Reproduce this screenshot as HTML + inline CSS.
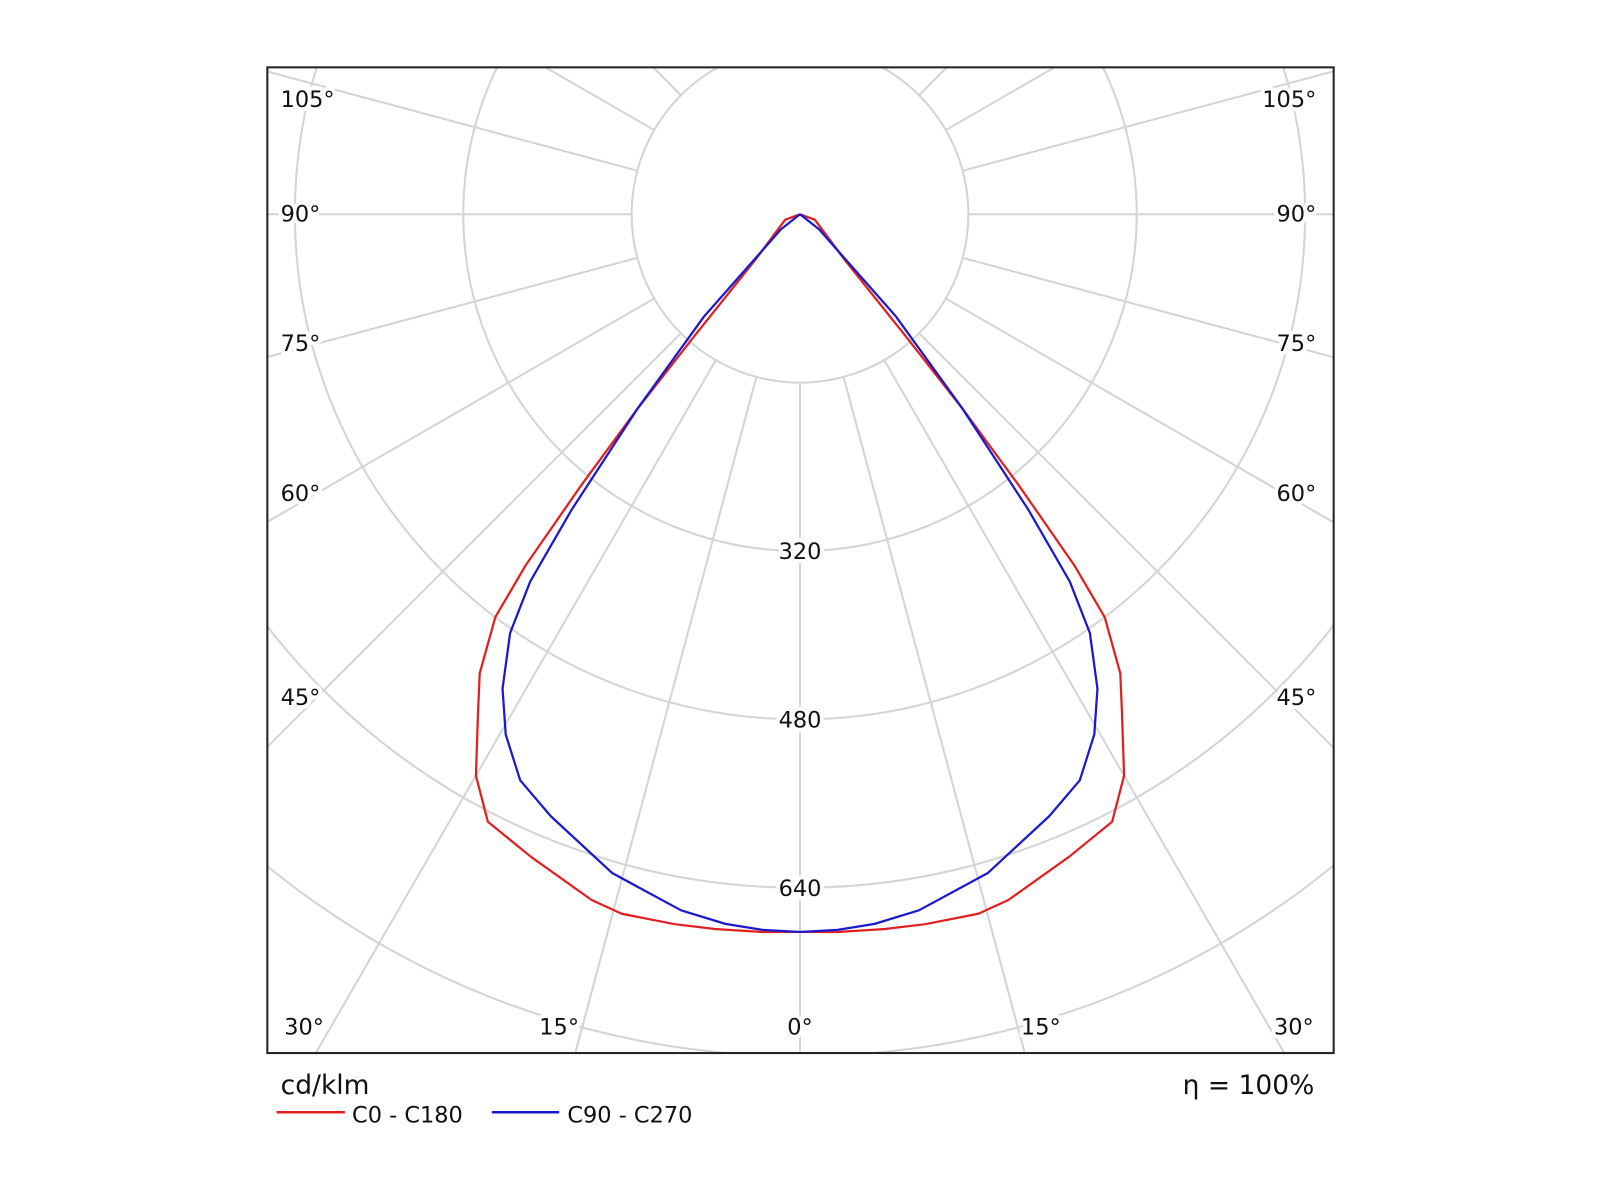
<!DOCTYPE html>
<html><head><meta charset="utf-8"><style>
html,body{margin:0;padding:0;background:#fff;width:1600px;height:1200px;overflow:hidden;}
svg{display:block;}
text{font-family:"DejaVu Sans","Liberation Sans",sans-serif;font-size:22px;fill:#111;}
.lbl{paint-order:stroke;stroke:#fff;stroke-width:8px;stroke-linejoin:round;}
</style></head><body>
<svg id="chart" width="1600" height="1200" viewBox="0 0 1568 1176" xmlns="http://www.w3.org/2000/svg">
<defs><clipPath id="frameClip"><rect x="262" y="66" width="1045" height="966"/></clipPath></defs>
<g id="grid" clip-path="url(#frameClip)"></g>
<g id="series" clip-path="url(#frameClip)"></g>
<rect x="262" y="66" width="1045" height="966" fill="none" stroke="#222" stroke-width="2"/>
<g id="labels"></g>
<text x="275" y="1072" style="font-size:26px">cd/klm</text>
<text x="1288" y="1072" text-anchor="end" style="font-size:26px">η = 100%</text>
<line x1="271" y1="1090" x2="338" y2="1090" stroke="#e02020" stroke-width="2.5"/>
<text x="345" y="1100">C0 - C180</text>
<line x1="482" y1="1090" x2="548" y2="1090" stroke="#1a1acc" stroke-width="2.5"/>
<text x="556" y="1100">C90 - C270</text>
</svg>
<script>
const redAngles = [0, 3, 6.8, 10, 14.3, 16.9, 22.7, 27.2, 30, 32.8, 34.9, 37.1, 38, 38.9, 39.9, 40.9, 44.4, 70, 90];
const redValues = [682, 683, 684, 685, 686, 681, 662, 649, 616, 565, 532, 480, 424, 331, 241, 154, 61, 15, 0];
const blueAngles = [0, 3, 6, 9.7, 15.9, 22.5, 26.3, 29.5, 32.1, 34.7, 36.3, 37.7, 39.9, 43.2, 51.7, 90];
const blueValues = [682, 681, 678, 671, 651, 619, 600, 568, 532, 484, 433, 355, 241, 133, 23, 0];
const ringValues = [160, 320, 480, 640, 800];
const ringLabels = ["320", "480", "640"];
const gridAngles = [0, 15, 30, 45, 60, 75, 90, 105, 120, 135, 150, 165];

const NS = "http://www.w3.org/2000/svg";
const cx = 784, cy = 210, pxPerCd = 165 / 160;
const rad = v => v * pxPerCd;
function pt(angleDeg, v, side) {
  const a = angleDeg * Math.PI / 180, r = rad(v);
  return [cx + side * r * Math.sin(a), cy + r * Math.cos(a)];
}
const grid = document.getElementById('grid');
ringValues.forEach(v => {
  const c = document.createElementNS(NS, 'circle');
  
  
  c.setAttribute('cx', cx); c.setAttribute('cy', cy); c.setAttribute('r', rad(v));
  c.setAttribute('fill', 'none'); c.setAttribute('stroke', '#d4d4d4'); c.setAttribute('stroke-width', '2');
  grid.appendChild(c);
});
gridAngles.forEach(g => {
  [-1, 1].forEach(side => {
    if (g === 0 && side === 1) return;
    const p1 = pt(g, 160, side), p2 = pt(g, 2000, side);
    const l = document.createElementNS(NS, 'line');
    
    
    l.setAttribute('x1', p1[0]); l.setAttribute('y1', p1[1]);
    l.setAttribute('x2', p2[0]); l.setAttribute('y2', p2[1]);
    l.setAttribute('stroke', '#d4d4d4'); l.setAttribute('stroke-width', '2');
    grid.appendChild(l);
  });
});
function curve(angles, values, color, name) {
  const pts = [];
  for (let i = angles.length - 1; i >= 0; i--) pts.push(pt(angles[i], values[i], -1));
  for (let i = 1; i < angles.length; i++) pts.push(pt(angles[i], values[i], 1));
  const p = document.createElementNS(NS, 'polyline');
  
  
  p.setAttribute('points', pts.map(q => q[0].toFixed(1) + ',' + q[1].toFixed(1)).join(' '));
  p.setAttribute('fill', 'none'); p.setAttribute('stroke', color); p.setAttribute('stroke-width', '2.2');
  p.setAttribute('stroke-linejoin', 'round');
  document.getElementById('series').appendChild(p);
}
curve(redAngles, redValues, '#e02020', 'series-c0-c180');
curve(blueAngles, blueValues, '#1a1acc', 'series-c90-c270');

const labels = document.getElementById('labels');
function label(x, y, t, anchor, name) {
  const e = document.createElementNS(NS, 'text');
  
  
  e.setAttribute('x', x); e.setAttribute('y', y);
  e.setAttribute('text-anchor', anchor); e.setAttribute('class', 'lbl');
  e.textContent = t;
  labels.appendChild(e);
}
ringLabels.forEach((t, i) => label(cx, cy + rad(ringValues[i + 1]) + 8, t, 'middle', 'ring-label'));
const sideLabels = [["105°", 105], ["90°", 217], ["75°", 344], ["60°", 491], ["45°", 691]];
sideLabels.forEach(s => {
  label(275, s[1], s[0], 'start', 'angle-label-left');
  label(1290, s[1], s[0], 'end', 'angle-label-right');
});
label(298, 1014, "30°", 'middle', 'angle-label-bottom');
label(548, 1014, "15°", 'middle', 'angle-label-bottom');
label(784, 1014, "0°", 'middle', 'angle-label-bottom');
label(1020, 1014, "15°", 'middle', 'angle-label-bottom');
label(1268, 1014, "30°", 'middle', 'angle-label-bottom');
</script>
</body></html>
